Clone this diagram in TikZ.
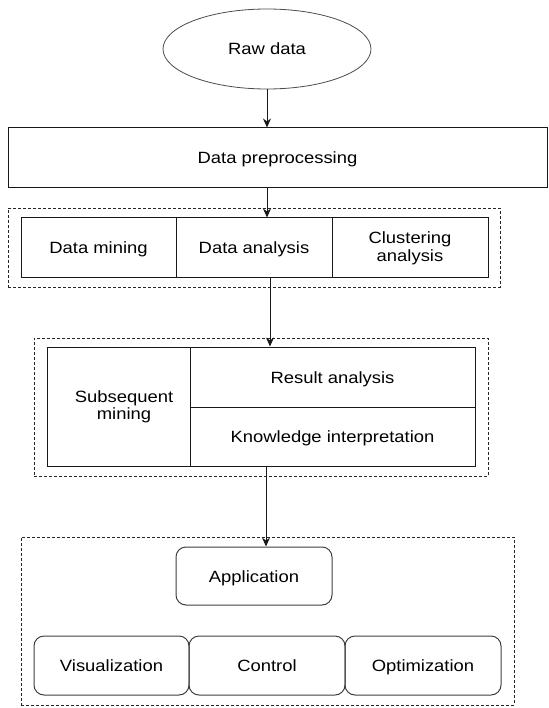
\documentclass[tikz,border=0pt]{standalone}
\usepackage{fontspec}
\setmainfont{Liberation Sans}[FakeStretch=1.13]
\usetikzlibrary{shapes.geometric,arrows.meta}
\begin{document}
\begin{tikzpicture}[x=1pt,y=-1pt,
  every node/.style={font=\fontsize{16.3}{17.5}\selectfont, inner sep=0pt, align=center},
  one/.style={text height=14.5pt, text depth=2.5pt},
  cell/.style={draw=black!90, line width=1pt, rectangle},
  rcell/.style={draw=black!75, line width=1pt, rectangle, rounded corners=10pt, one},
  grp/.style={draw=black!85, line width=0.8pt, dash pattern=on 3pt off 2pt},
  arr/.style={draw=black!90, line width=1pt, -{Stealth[length=9pt,width=8pt]}}]
\useasboundingbox (0,0) rectangle (548,708);
\fill[white] (0,0) rectangle (548,708);
% groups
\node[grp, minimum width=492pt, minimum height=79pt] (g1) at (254,247.5) {};
\node[grp, minimum width=454pt, minimum height=138pt] (g2) at (261,407) {};
\node[grp, minimum width=493pt, minimum height=168pt] (g3) at (267.5,621) {};
% top
\node[ellipse, draw=black!70, line width=0.8pt, minimum width=208pt, minimum height=80pt, one] (raw) at (267,49) {Raw data};
\node[cell, one, minimum width=539pt, minimum height=60pt] (pre) at (277.5,158) {Data preprocessing};
% row 1
\node[cell, one, minimum width=155pt, minimum height=59pt] (dm) at (98.5,247.5) {Data mining};
\node[cell, one, minimum width=156pt, minimum height=59pt] (da) at (254,247.5) {Data analysis};
\node[cell, minimum width=156pt, minimum height=59pt] (ca) at (410,247.5) {};
\node (cat) at (410,248.5) {Clustering\\analysis};
% block 2
\node[cell, minimum width=143pt, minimum height=119pt] (sm) at (118.5,406.5) {};
\node (smt) at (124,407) {Subsequent\\mining};
\node[cell, one, minimum width=285pt, minimum height=60pt] (ra) at (332.5,377) {Result analysis};
\node[cell, one, minimum width=285pt, minimum height=59pt] (ki) at (332.5,436.5) {Knowledge interpretation};
% block 3
\node[rcell, minimum width=156pt, minimum height=58pt] (app) at (254,576) {Application};
\node[rcell, minimum width=155pt, minimum height=59pt] (vis) at (111.5,665.5) {Visualization};
\node[rcell, minimum width=156pt, minimum height=59pt] (ctl) at (267,665.5) {Control};
\node[rcell, minimum width=156pt, minimum height=59pt] (opt) at (423,665.5) {Optimization};
% arrows
\coordinate (c2) at (270,0);
\coordinate (c3) at (266,0);
\draw[arr] (raw.south) -- (pre.north -| raw.south);
\draw[arr] (pre.south -| raw.south) -- (da.north -| raw.south);
\draw[arr] (c2 |- da.south) -- (c2 |- ra.north);
\draw[arr] (c3 |- ki.south) -- (c3 |- app.north);
\end{tikzpicture}
\end{document}
